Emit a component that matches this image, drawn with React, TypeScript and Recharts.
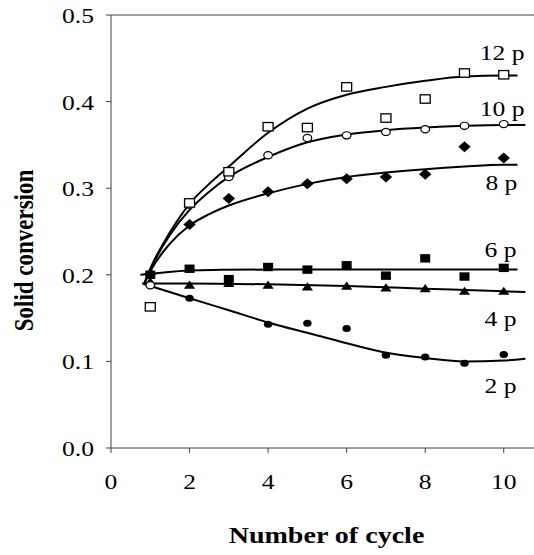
import { ComposedChart, Line, Scatter, XAxis, YAxis, ReferenceLine } from "recharts";

const FONT = "'Liberation Serif', 'Times New Roman', serif";
const INK = "#000";
const AXIS = "#404040";
// glyphs in this figure are drawn wider than they are tall
const STRETCH = 1.22;

// measured solid conversion per cycle (null = no marker)
const cycles = [1, 2, 3, 4, 5, 6, 7, 8, 9, 10];
const meas12 = [0.163, 0.283, 0.319, 0.371, 0.370, 0.417, 0.381, 0.403, 0.433, 0.431];
const meas10 = [0.188, 0.281, 0.313, 0.338, 0.358, 0.361, 0.365, 0.368, 0.372, 0.374];
const meas8 = [0.201, 0.258, 0.288, 0.296, 0.305, 0.311, 0.313, 0.316, 0.348, 0.335];
const meas6 = [0.200, 0.207, 0.195, 0.209, 0.206, 0.211, 0.199, 0.219, 0.198, 0.208];
const meas4 = [0.192, 0.188, 0.190, 0.188, 0.186, 0.187, 0.185, 0.184, 0.181, 0.181];
const meas2 = [null, 0.173, null, 0.143, 0.144, 0.138, 0.107, 0.105, 0.098, 0.108];

// trend curves
const fit12X = [0.85, 1, 1.5, 2, 2.5, 3, 4, 5, 6, 7, 8, 9, 10, 10.35];
const fit12Y = [0.19, 0.207, 0.249, 0.282, 0.305, 0.325, 0.364, 0.392, 0.408, 0.417, 0.424, 0.429, 0.430, 0.430];
const fit10X = [0.85, 1, 1.5, 2, 2.5, 3, 4, 5, 6, 7, 8, 9, 10, 10.55];
const fit10Y = [0.19, 0.206, 0.246, 0.275, 0.296, 0.313, 0.336, 0.353, 0.362, 0.367, 0.370, 0.372, 0.373, 0.373];
const fit8X = [0.85, 1, 1.5, 2, 2.5, 3, 4, 5, 6, 7, 8, 9, 10, 10.35];
const fit8Y = [0.19, 0.204, 0.236, 0.257, 0.270, 0.280, 0.294, 0.305, 0.313, 0.318, 0.322, 0.325, 0.327, 0.327];
const fit6X = [0.75, 1, 2, 4, 6, 8, 10, 10.35];
const fit6Y = [0.200, 0.201, 0.205, 0.206, 0.206, 0.206, 0.206, 0.206];
const fit4X = [0.8, 2, 4, 6, 8, 10, 10.55];
const fit4Y = [0.190, 0.190, 0.189, 0.187, 0.184, 0.181, 0.180];
const fit2X = [0.8, 2, 3, 4, 5, 6, 7, 8, 9, 10, 10.55];
const fit2Y = [0.190, 0.173, 0.159, 0.145, 0.133, 0.121, 0.110, 0.104, 0.100, 0.101, 0.103];

// curve names and where they sit (baseline) in data units
const curveNames = ["12 p", "10 p", "8 p", "6 p", "4 p", "2 p"];
const nameX = [9.96, 9.96, 9.94, 9.92, 9.92, 9.92];
const nameY = [0.448, 0.383, 0.298, 0.220, 0.141, 0.064];

const xTicks = [0, 2, 4, 6, 8, 10];
const yTicks = [0, 0.1, 0.2, 0.3, 0.4, 0.5];

const pts = (xs: number[], ys: (number | null)[]) =>
  xs.map((x, i) => ({ x, y: ys[i] })).filter((p) => p.y !== null);

const nameData = curveNames.map((text, i) => ({ x: nameX[i], y: nameY[i], text }));

type P = { cx?: number; cy?: number; payload?: any };

const OpenSquare = ({ cx = 0, cy = 0 }: P) => (
  <rect x={cx - 5} y={cy - 4.2} width={10} height={8.4} fill="#fff" stroke={INK} strokeWidth={1.3} />
);
const FilledSquare = ({ cx = 0, cy = 0 }: P) => (
  <rect x={cx - 5} y={cy - 4.2} width={10} height={8.4} fill={INK} />
);
const OpenCircle = ({ cx = 0, cy = 0 }: P) => (
  <ellipse cx={cx} cy={cy} rx={4.3} ry={3.6} fill="#fff" stroke={INK} strokeWidth={1.2} />
);
const FilledCircle = ({ cx = 0, cy = 0 }: P) => (
  <ellipse cx={cx} cy={cy} rx={4.2} ry={3.5} fill={INK} />
);
const Diamond = ({ cx = 0, cy = 0 }: P) => (
  <polygon points={`${cx},${cy - 5.5} ${cx + 6.2},${cy} ${cx},${cy + 5.5} ${cx - 6.2},${cy}`} fill={INK} />
);
const Triangle = ({ cx = 0, cy = 0 }: P) => (
  <polygon points={`${cx},${cy - 4.6} ${cx + 5.6},${cy + 3.6} ${cx - 5.6},${cy + 3.6}`} fill={INK} />
);

const CurveName = ({ cx = 0, cy = 0, payload }: P) => (
  <g transform={`translate(${cx},${cy}) scale(${STRETCH},1)`}>
    <text textAnchor="middle" fontFamily={FONT} fontSize={21} fill={INK}>
      {payload?.text}
    </text>
  </g>
);

const YTick = ({ x, y, payload }: any) => (
  <g transform={`translate(${x},${y + 8}) scale(${STRETCH},1)`}>
    <text textAnchor="end" fontFamily={FONT} fontSize={21} fill={INK}>
      {Number(payload.value).toFixed(1)}
    </text>
  </g>
);

const XTick = ({ x, y, payload }: any) => (
  <g transform={`translate(${x},${y + 36}) scale(${STRETCH},1)`}>
    <text textAnchor="middle" fontFamily={FONT} fontSize={21} fill={INK}>
      {payload.value}
    </text>
  </g>
);

const XTitle = ({ viewBox }: any) => {
  const vb = viewBox ?? { x: 111, y: 448, width: 423, height: 107 };
  return (
    <g transform={`translate(${vb.x + vb.width / 2 + 4},${vb.y + 95}) scale(${STRETCH},1)`}>
      <text textAnchor="middle" fontFamily={FONT} fontSize={23} fontWeight="bold" fill={INK}>
        Number of cycle
      </text>
    </g>
  );
};

const YTitle = ({ viewBox }: any) => {
  const vb = viewBox ?? { x: 0, y: 15, width: 111, height: 433 };
  return (
    <g transform={`translate(${vb.x + 33},${vb.y + vb.height / 2 + 19}) rotate(-90) scale(1,${STRETCH})`}>
      <text textAnchor="middle" fontFamily={FONT} fontSize={23} fontWeight="bold" fill={INK}>
        Solid conversion
      </text>
    </g>
  );
};

const fits = [
  { key: "f12", data: pts(fit12X, fit12Y) },
  { key: "f10", data: pts(fit10X, fit10Y) },
  { key: "f8", data: pts(fit8X, fit8Y) },
  { key: "f6", data: pts(fit6X, fit6Y) },
  { key: "f4", data: pts(fit4X, fit4Y) },
  { key: "f2", data: pts(fit2X, fit2Y) },
];

const markers = [
  { key: "m2", data: pts(cycles, meas2), shape: FilledCircle },
  { key: "m4", data: pts(cycles, meas4), shape: Triangle },
  { key: "m6", data: pts(cycles, meas6), shape: FilledSquare },
  { key: "m8", data: pts(cycles, meas8), shape: Diamond },
  { key: "m10", data: pts(cycles, meas10), shape: OpenCircle },
  { key: "m12", data: pts(cycles, meas12), shape: OpenSquare },
];

export default function App() {
  return (
    <div style={{ position: "absolute", left: 0, top: 0, width: 534, height: 555, background: "#fff" }}>
      <ComposedChart width={534} height={555} margin={{ top: 15, right: 0, bottom: 0, left: 0 }}>
        <XAxis
          type="number"
          dataKey="x"
          domain={[0, 10.77]}
          ticks={xTicks}
          allowDataOverflow
          height={107}
          tickSize={5}
          tickMargin={0}
          stroke={AXIS}
          tick={<XTick />}
          label={{ content: XTitle }}
        />
        <YAxis
          type="number"
          dataKey="y"
          domain={[0, 0.5]}
          ticks={yTicks}
          allowDataOverflow
          width={111}
          tickSize={5}
          tickMargin={12}
          stroke={AXIS}
          tick={<YTick />}
          label={{ content: YTitle }}
        />
        <ReferenceLine y={0.5} stroke={AXIS} strokeWidth={1} />
        {fits.map((f) => (
          <Line
            key={f.key}
            data={f.data}
            dataKey="y"
            type="monotone"
            stroke={INK}
            strokeWidth={2}
            dot={false}
            activeDot={false}
            isAnimationActive={false}
          />
        ))}
        {markers.map((m) => (
          <Scatter key={m.key} data={m.data} dataKey="y" shape={m.shape} isAnimationActive={false} />
        ))}
        <Scatter data={nameData} dataKey="y" shape={CurveName} isAnimationActive={false} />
      </ComposedChart>
    </div>
  );
}
